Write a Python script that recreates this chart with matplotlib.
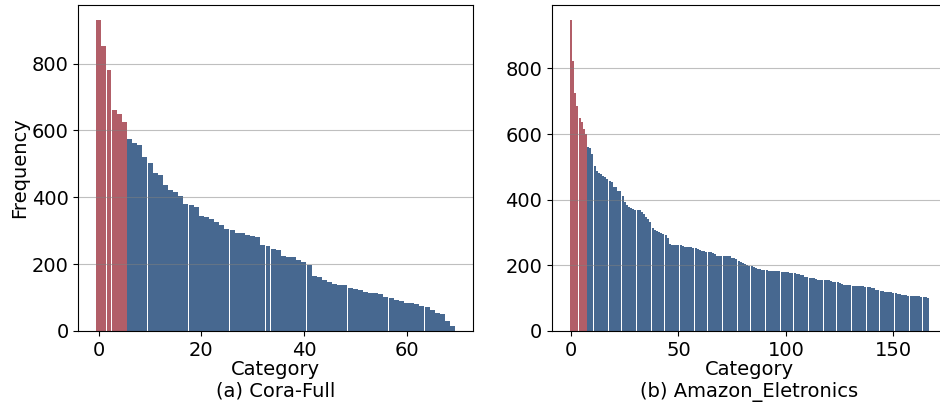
import numpy as np
import matplotlib
matplotlib.use('Agg')
import matplotlib.pyplot as plt

# Cora-Full: per-category sample counts (sorted)
cora_counts = [929, 854, 782, 662, 650, 626,
               574, 562, 556, 520, 502, 472, 466, 436, 421, 415,
               403, 379, 376, 370, 343, 340, 334, 325, 316, 304,
               301, 292, 292, 286, 283, 280, 256, 253, 244, 241,
               223, 220, 220, 211, 205, 196, 165, 162, 153, 147,
               141, 138, 138, 129, 126, 123, 117, 114, 114, 111,
               102, 99, 93, 90, 84, 84, 81, 75, 72, 63,
               54, 51, 30, 15]
cora_head = 6

# Amazon_Eletronics: per-category sample counts (sorted)
amazon_counts = [946, 824, 726, 686, 649, 637, 616, 600,
                 560, 557, 539, 502, 487, 481, 478, 472, 469, 462,
                 456, 453, 438, 438, 426, 426, 410, 392, 383, 377,
                 374, 371, 368, 368, 368, 363, 355, 346, 340, 333,
                 315, 309, 306, 303, 300, 297, 291, 283, 266, 263,
                 263, 263, 263, 263, 259, 257, 257, 257, 257, 254,
                 254, 251, 248, 245, 245, 242, 242, 242, 239, 236,
                 230, 230, 230, 230, 227, 227, 227, 221, 221, 218,
                 214, 211, 208, 205, 202, 199, 199, 196, 193, 190,
                 189, 187, 187, 187, 184, 184, 184, 184, 184, 184,
                 181, 181, 181, 181, 178, 178, 178, 175, 175, 172,
                 171, 165, 165, 162, 162, 162, 159, 156, 156, 156,
                 156, 156, 156, 153, 150, 150, 150, 147, 144, 141,
                 141, 141, 141, 138, 138, 138, 138, 137, 136, 135,
                 135, 135, 132, 132, 126, 126, 123, 123, 119, 119,
                 119, 119, 116, 116, 113, 113, 110, 110, 110, 107,
                 107, 107, 107, 107, 107, 104, 104, 104, 101]
amazon_head = 8

RED = '#B25E68'
BLUE = '#476890'

plt.rcParams['font.size'] = 14

fig = plt.figure(figsize=(9.4, 4.04), dpi=100)
ax1 = fig.add_axes([0.0833, 0.1807, 0.420, 0.807])
ax2 = fig.add_axes([0.5872, 0.1807, 0.420, 0.807])


def draw(ax, counts, n_head, title, width):
    counts = np.array(counts)
    x = np.arange(len(counts))
    colors = [RED if i < n_head else BLUE for i in x]
    ax.bar(x, counts, width=width, color=colors, linewidth=0)
    ax.set_ylim(0, counts.max() * 1.05)
    ax.grid(axis='y', color='gray', alpha=0.5)
    ax.set_xlabel('Category\n' + title, labelpad=0)
    ax.set_yticks([0, 200, 400, 600, 800])


draw(ax1, cora_counts, cora_head, '(a) Cora-Full', 0.97)
draw(ax2, amazon_counts, amazon_head, '(b) Amazon_Eletronics', 0.93)
ax1.set_ylabel('Frequency', labelpad=2)

plt.savefig('out.png', dpi=100)
